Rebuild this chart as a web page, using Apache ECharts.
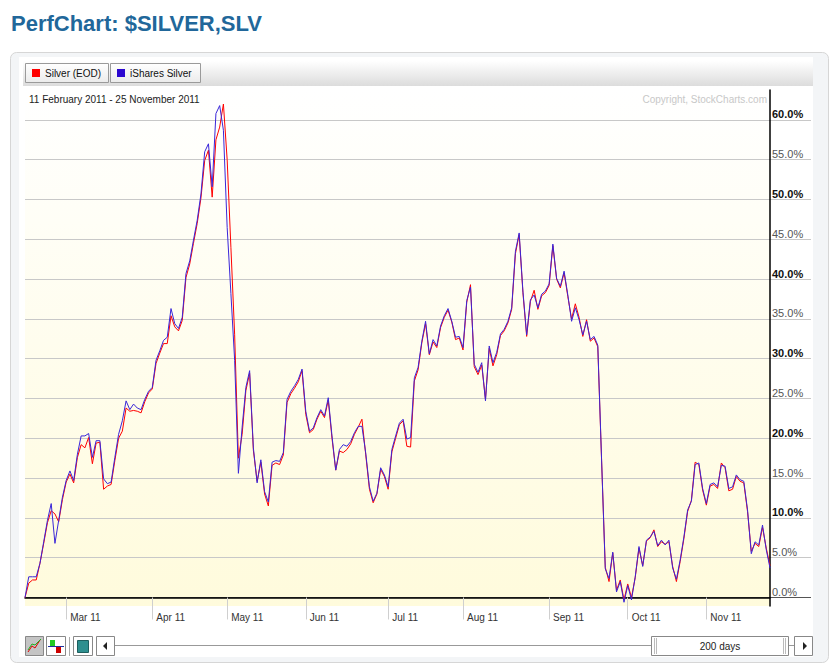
<!DOCTYPE html>
<html>
<head>
<meta charset="utf-8">
<title>PerfChart: $SILVER,SLV</title>
<script src="https://cdn.jsdelivr.net/npm/echarts@6.0.0/dist/echarts.min.js"></script>
<style>
  html, body { margin: 0; padding: 0; background: #fff; }
  #main { width: 835px; height: 668px; }
</style>
</head>
<body>
<div id="main"></div>
<script>
// trading days run from firstDay to lastDay, weekends and these holidays skipped
var firstDay = '2011-02-11';
var lastDay = '2011-11-25';
var holidays = ['2011-02-21', '2011-04-22', '2011-05-30', '2011-07-04', '2011-09-05', '2011-11-24'];
var monthNames = ['Jan', 'Feb', 'Mar', 'Apr', 'May', 'Jun', 'Jul', 'Aug', 'Sep', 'Oct', 'Nov', 'Dec'];

// percent change since 11 Feb 2011
var silverEOD = [
  0, 1.8, 2.2, 2.2, 4.3, 6.8, 9.4, 10.9, 10.5, 9.5,
  12.3, 14.5, 15.5, 14.4, 17.6, 19.2, 18.8, 20.1, 16.8, 19.4,
  19.5, 13.6, 14.0, 14.2, 17.2, 20.0, 20.9, 23.8, 23.4, 23.5,
  23.4, 23.2, 24.6, 25.7, 26.2, 29.4, 30.7, 31.9, 31.9, 35.4,
  34.0, 33.5, 34.8, 40.2, 41.9, 44.5, 47.0, 50.2, 54.9, 56.2,
  50.3, 57.5, 59.1, 62.0, 55.0, 44.0, 33.0, 17.5, 20.5, 26.0,
  28.2, 18.5, 14.6, 17.0, 13.0, 11.5, 16.6, 16.9, 16.7, 17.9,
  24.5, 25.6, 26.3, 27.1, 28.5, 23.0, 20.7, 21.1, 22.4, 23.4,
  22.6, 24.8, 20.0, 16.0, 18.4, 18.2, 18.6, 19.3, 20.5, 21.4,
  22.4, 18.0, 13.6, 11.9, 13.0, 16.1, 15.2, 13.6, 18.3, 20.0,
  21.7, 22.2, 19.0, 18.9, 27.2, 28.6, 32.0, 34.4, 30.5, 32.1,
  31.4, 33.9, 35.2, 36.1, 34.6, 32.4, 32.6, 31.1, 37.1, 39.3,
  29.0, 28.0, 29.2, 24.9, 31.3, 29.1, 30.5, 32.9, 33.5, 34.5,
  36.2, 43.2, 45.6, 38.3, 32.8, 37.2, 38.6, 36.2, 37.9, 38.3,
  39.2, 44.2, 40.0, 38.9, 40.8, 37.8, 35.0, 36.9, 35.2, 32.8,
  34.9, 32.2, 32.6, 31.5, 17.4, 3.8, 2.0, 5.6, 0.9, 2.2,
  -0.3, 1.7, 0.0, 2.5, 6.2, 4.0, 7.1, 7.5, 8.5, 6.4,
  7.0, 6.7, 7.0, 3.9, 2.0, 4.5, 7.4, 10.8, 12.2, 17.0,
  16.7, 13.5, 11.6, 14.0, 14.2, 13.7, 16.9, 16.3, 13.4, 13.6,
  15.2, 14.6, 14.4, 10.8, 5.8, 6.8, 6.4, 8.8, 6.2, 4.0
];
var iSharesSilver = [
  0, 2.6, 2.6, 2.6, 4.3, 7.0, 9.7, 11.8, 6.8, 9.7,
  12.6, 14.7, 15.9, 14.7, 18.0, 20.3, 20.3, 20.6, 17.6, 19.7,
  19.7, 14.9, 14.3, 14.5, 17.6, 20.5, 22.2, 24.7, 23.6, 24.3,
  23.8, 23.6, 24.9, 25.9, 26.4, 29.8, 31.0, 32.3, 32.7, 36.3,
  34.4, 33.8, 35.2, 40.7, 42.3, 44.9, 47.4, 50.7, 56.0, 57.0,
  51.6, 60.8, 61.8, 58.7, 46.5, 38.2, 29.8, 15.6, 21.4, 26.4,
  28.5, 18.8, 14.4, 17.3, 13.3, 12.0, 17.0, 17.2, 17.1, 18.2,
  24.9, 25.9, 26.6, 27.4, 28.7, 23.4, 20.9, 21.3, 22.6, 23.6,
  22.8, 25.1, 20.3, 16.0, 18.6, 19.2, 19.0, 19.6, 20.7, 21.5,
  21.5, 18.2, 13.9, 12.1, 13.1, 16.3, 15.4, 13.9, 18.6, 20.3,
  21.9, 22.4, 19.9, 20.1, 27.6, 28.9, 32.2, 34.7, 30.6, 32.4,
  31.6, 34.1, 35.4, 36.3, 34.7, 32.7, 32.8, 31.4, 37.3, 39.0,
  29.3, 28.3, 29.5, 24.7, 31.6, 29.5, 30.8, 33.1, 33.7, 34.7,
  36.4, 43.5, 45.8, 38.5, 33.0, 37.4, 38.0, 36.4, 38.1, 38.5,
  39.4, 44.4, 40.1, 39.1, 41.0, 38.0, 34.7, 36.4, 34.9, 33.0,
  34.7, 32.4, 32.8, 31.7, 17.5, 3.6, 2.4, 5.7, 0.7, 2.0,
  -0.6, 1.5, -0.3, 2.6, 6.4, 3.9, 7.2, 7.6, 8.3, 6.5,
  7.2, 6.6, 7.2, 3.7, 2.3, 4.7, 7.6, 11.0, 12.1, 16.7,
  16.9, 13.7, 11.8, 14.2, 14.4, 13.9, 16.6, 16.5, 13.7, 13.9,
  15.4, 14.8, 14.6, 11.0, 5.5, 7.0, 6.6, 9.1, 6.0, 3.7
];
var yTicks = [0, 5, 10, 15, 20, 25, 30, 35, 40, 45, 50, 55, 60];

function tradingDays(from, to) {
  var out = [];
  var d = new Date(from + 'T00:00:00Z');
  var end = new Date(to + 'T00:00:00Z');
  while (d <= end) {
    var wd = d.getUTCDay();
    var s = d.toISOString().slice(0, 10);
    if (wd !== 0 && wd !== 6 && holidays.indexOf(s) < 0) out.push(s);
    d.setUTCDate(d.getUTCDate() + 1);
  }
  return out;
}
var dates = tradingDays(firstDay, lastDay);

function isMonthStart(i) {
  return i > 0 && dates[i].slice(5, 7) !== dates[i - 1].slice(5, 7);
}

var font = '"Liberation Sans", Arial, sans-serif';
var gridColors = yTicks.map(function (v) { return v === 0 ? '#555' : '#c8c8c8'; });
var yMin = -1.07, yMax = 63.76;

var chart = echarts.init(document.getElementById('main'), null, { renderer: 'svg' });

function box(x, y, w, h, fill, stroke) {
  return { type: 'rect', z: -5, silent: true, shape: { x: x, y: y, width: w, height: h },
    style: { fill: fill, stroke: stroke || null, lineWidth: 1 } };
}
function label(txt, x, y, size, color, align) {
  return { type: 'text', z: 5, silent: true,
    style: { text: txt, x: x, y: y, font: size + 'px ' + font, fill: color,
      textAlign: align || 'left', align: align || 'left', textVerticalAlign: 'middle', verticalAlign: 'middle' } };
}
function grad(a, b) {
  return new echarts.graphic.LinearGradient(0, 0, 0, 1, [{ offset: 0, color: a }, { offset: 1, color: b }]);
}

chart.setOption({
  animation: false,
  textStyle: { fontFamily: font },
  graphic: { elements: [
    label('PerfChart: $SILVER,SLV', 11, 23, 'bold 22', '#21679a'),
    { type: 'rect', z: -10, silent: true, shape: { x: 10.5, y: 52.5, width: 818, height: 610, r: 6 },
      style: { fill: '#f3f5f7', stroke: '#d6d6d6', lineWidth: 1 } },
    box(19, 57, 794, 600, '#ffffff'),
    box(23, 61, 790, 25, grad('#ffffff', '#dcdcdc')),
    box(25.5, 63.5, 83, 19, grad('#ffffff', '#ebebeb'), '#9a9a9a'),
    box(32, 69, 8, 8, '#ff0000'),
    label('Silver (EOD)', 45, 73, 10, '#111'),
    box(110.5, 63.5, 90, 19, grad('#ffffff', '#ebebeb'), '#9a9a9a'),
    box(117, 69, 8, 8, '#2b07d0'),
    label('iShares Silver', 130, 73, 10, '#111'),
    box(25, 88, 745, 518, grad('#ffffff', '#fffbdc')),
    label('11 February 2011 - 25 November 2011', 29, 99, 10, '#222'),
    label('Copyright, StockCharts.com', 767, 99, 10, '#c8c8c8', 'right'),
    // bottom toolbar
    box(25.5, 636.5, 18, 19, '#c4c4c4', '#888'),
    { type: 'polyline', z: 5, silent: true, shape: { points: [[28, 652], [32, 646], [35, 648], [40, 640]] },
      style: { stroke: '#e00000', lineWidth: 1, fill: null } },
    { type: 'polyline', z: 5, silent: true, shape: { points: [[28, 650], [32, 644], [35, 645], [41, 639]] },
      style: { stroke: '#20b020', lineWidth: 1, fill: null } },
    box(46.5, 636.5, 19, 19, '#ffffff', '#888'),
    box(50, 640, 5, 6, '#22cc22'),
    box(56, 647, 5, 6, '#cc0000'),
    { type: 'line', z: 5, silent: true, shape: { x1: 48, y1: 646.5, x2: 64, y2: 646.5 }, style: { stroke: '#2030a0' } },
    { type: 'line', z: 5, silent: true, shape: { x1: 69.5, y1: 637, x2: 69.5, y2: 656 }, style: { stroke: '#aaa' } },
    box(73.5, 636.5, 19, 19, '#ffffff', '#888'),
    box(77.5, 640.5, 11, 12, '#2e8f8f', '#1d5f5f'),
    box(96.5, 636.5, 18, 19, '#ffffff', '#888'),
    { type: 'polygon', z: 5, silent: true, shape: { points: [[103, 646], [107, 642], [107, 650]] }, style: { fill: '#222' } },
    { type: 'line', z: 5, silent: true, shape: { x1: 115, y1: 645.5, x2: 651, y2: 645.5 }, style: { stroke: '#999' } },
    box(651.5, 636.5, 137, 19, '#ffffff', '#888'),
    { type: 'line', z: 5, silent: true, shape: { x1: 654.5, y1: 638, x2: 654.5, y2: 654 }, style: { stroke: '#bbb' } },
    { type: 'line', z: 5, silent: true, shape: { x1: 656.5, y1: 638, x2: 656.5, y2: 654 }, style: { stroke: '#bbb' } },
    { type: 'line', z: 5, silent: true, shape: { x1: 783.5, y1: 638, x2: 783.5, y2: 654 }, style: { stroke: '#bbb' } },
    { type: 'line', z: 5, silent: true, shape: { x1: 785.5, y1: 638, x2: 785.5, y2: 654 }, style: { stroke: '#bbb' } },
    label('200 days', 720, 646, 10, '#222', 'center'),
    { type: 'line', z: 5, silent: true, shape: { x1: 789, y1: 645.5, x2: 794, y2: 645.5 }, style: { stroke: '#999' } },
    box(794.5, 636.5, 18, 19, '#ffffff', '#888'),
    { type: 'polygon', z: 5, silent: true, shape: { points: [[807, 646], [803, 642], [803, 650]] }, style: { fill: '#222' } }
  ] },
  grid: [
    { left: 25, right: 65, top: 90, bottom: 62 },
    { left: 770, right: 24, top: 90, bottom: 62 }
  ],
  xAxis: [
    {
      type: 'category', gridIndex: 0, data: dates, boundaryGap: false,
      axisLine: { lineStyle: { color: '#000', width: 1.5 } },
      axisTick: { interval: isMonthStart, length: 22, lineStyle: { color: '#cfcfcf' } },
      axisLabel: {
        interval: isMonthStart, align: 'left', margin: 6, padding: [0, 0, 0, 4],
        fontSize: 10, color: '#333',
        formatter: function (v) { return monthNames[+v.slice(5, 7) - 1] + ' ' + v.slice(2, 4); }
      },
      splitLine: { show: false }
    },
    { type: 'value', gridIndex: 1, min: 0, max: 1, show: false }
  ],
  yAxis: [
    {
      type: 'value', gridIndex: 0, position: 'right', min: yMin, max: yMax,
      axisLine: { show: false },
      axisTick: { show: false, customValues: yTicks },
      axisLabel: { show: false, customValues: yTicks },
      splitLine: { show: true, lineStyle: { color: gridColors, width: 1 } }
    },
    {
      type: 'value', gridIndex: 1, position: 'left', min: yMin, max: yMax,
      axisLine: { show: true, lineStyle: { color: '#000', width: 1.5 } },
      axisTick: { show: false, customValues: yTicks },
      axisLabel: {
        inside: true, customValues: yTicks, margin: 2, align: 'left', verticalAlign: 'bottom',
        formatter: function (v) {
          var t = v.toFixed(1) + '%';
          return (v % 10 === 0 && v !== 0) ? '{b|' + t + '}' : '{n|' + t + '}';
        },
        rich: {
          b: { fontSize: 11, fontWeight: 'bold', color: '#111', fontFamily: font },
          n: { fontSize: 11, color: '#555', fontFamily: font }
        }
      },
      splitLine: { show: true, lineStyle: { color: gridColors, width: 1 } }
    }
  ],
  series: [
    {
      name: 'Silver (EOD)', type: 'line', xAxisIndex: 0, yAxisIndex: 0,
      data: silverEOD, showSymbol: false, silent: true,
      lineStyle: { color: '#ff0000', width: 1 }, itemStyle: { color: '#ff0000' }
    },
    {
      name: 'iShares Silver', type: 'line', xAxisIndex: 0, yAxisIndex: 0,
      data: iSharesSilver, showSymbol: false, silent: true,
      lineStyle: { color: '#3a26d8', width: 1 }, itemStyle: { color: '#3a26d8' }
    }
  ]
});
</script>
</body>
</html>
